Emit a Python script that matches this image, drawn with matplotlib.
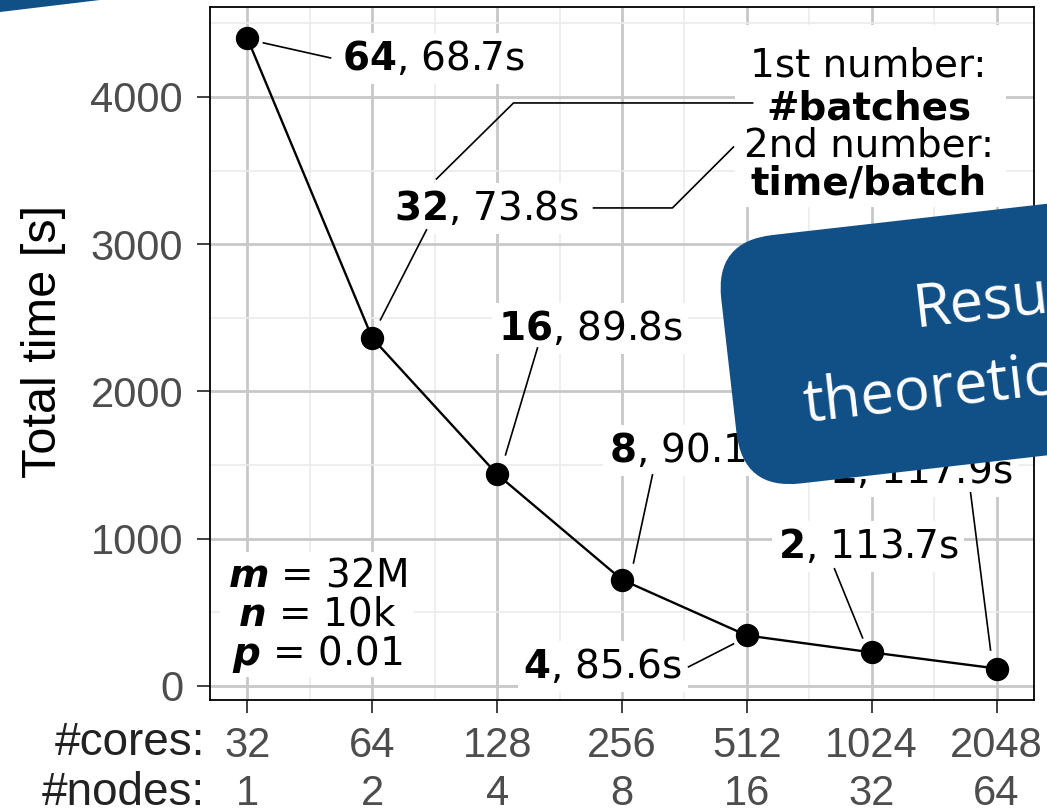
import matplotlib
matplotlib.use("Agg")
import numpy as np
import matplotlib.pyplot as plt
from matplotlib.patches import FancyBboxPatch, Polygon, Rectangle
from matplotlib.transforms import Affine2D, blended_transform_factory
from matplotlib.ticker import FixedLocator, NullFormatter

# ---- data -------------------------------------------------------------
cores = [32, 64, 128, 256, 512, 1024, 2048]
nodes = [1, 2, 4, 8, 16, 32, 64]
batches = [64, 32, 16, 8, 4, 2, 1]
time_per_batch = [68.7, 73.8, 89.8, 90.1, 85.6, 113.7, 117.9]
total_time = [b * t for b, t in zip(batches, time_per_batch)]

y_ticks = [0, 1000, 2000, 3000, 4000]
params = [("m", "32M"), ("n", "10k"), ("p", "0.01")]

# ---- label layout (log2 of x, y) -------------------------------------
label_pos = [(5.761, 4183), (6.170, 3165), (7.003, 2350), (7.892, 1521),
             (7.211, 54), (9.246, 869), (9.662, 1379)]
leaders = [((5.128, 4367), (5.665, 4265)),
           ((6.434, 3097), (6.065, 2486)),
           ((7.323, 2295), (7.067, 1569)),
           ((8.244, 1433), (8.092, 835)),
           ((8.533, 129), (8.893, 285)),
           ((9.702, 795), (9.927, 326)),
           ((10.792, 1311), (10.952, 244))]
key_lines = [("1st number:", "normal", 4136),
             ("#batches", "bold", 3844),
             ("2nd number:", "normal", 3592),
             ("time/batch", "bold", 3334)]
key_x = 9.975
key_pointers = [[(9.046, 3959), (7.131, 3959), (6.514, 3443)],
                [(8.893, 3660), (8.404, 3246), (7.772, 3246)]]
param_x = 5.561
param_y = [672, 407, 143]

TICK_FONT = "Liberation Sans"
LABEL_FONT = "DejaVu Sans"
GREY = "#4d4d4d"
BLUE = "#115087"

fig = plt.figure(figsize=(10.47, 8.08), dpi=100)
fig.patch.set_facecolor("white")
ax = fig.add_axes([210 / 1047, 108 / 808, 824 / 1047, 693 / 808])
ax.set_axisbelow(True)

ax.set_xscale("log", base=2)
ax.set_xlim(2 ** 4.7, 2 ** 11.3)
span = max(total_time) - min(total_time)
ax.set_ylim(min(total_time) - 0.05 * span, max(total_time) + 0.05 * span)

ax.xaxis.set_major_locator(FixedLocator(cores))
ax.set_xticklabels([str(c) for c in cores])
ax.xaxis.set_minor_locator(FixedLocator([2 ** (k + 0.5) for k in range(5, 11)]))
ax.xaxis.set_minor_formatter(NullFormatter())
ax.yaxis.set_major_locator(FixedLocator(y_ticks))
ax.set_yticklabels([str(v) for v in y_ticks])
ax.yaxis.set_minor_locator(FixedLocator([500, 1500, 2500, 3500, 4500]))

ax.grid(which="major", color="#c8c8c8", lw=2.0)
ax.grid(which="minor", color="#ebebeb", lw=1.2)
ax.tick_params(which="major", length=9.4, width=1.3, color="#333333",
               labelsize=30, labelcolor=GREY)
ax.tick_params(axis="x", which="major", pad=9.4)
ax.tick_params(axis="y", which="major", pad=10)
ax.tick_params(which="minor", length=0)
for lbl in ax.get_xticklabels() + ax.get_yticklabels():
    lbl.set_fontfamily(TICK_FONT)
for s in ax.spines.values():
    s.set_color("black")
    s.set_linewidth(1.3)

# second row of x labels: node counts
bt = blended_transform_factory(ax.transData, fig.dpi_scale_trans)
for c, n in zip(cores, nodes):
    ax.text(c, (808 - 805) / 100, str(n), transform=bt, ha="center",
            va="baseline", fontsize=30, color=GREY, family=TICK_FONT,
            clip_on=False)
fig.text(2.05, (808 - 755) / 100, "#cores:", transform=fig.dpi_scale_trans,
         ha="right", va="baseline", fontsize=33, color="#222222",
         family=TICK_FONT)
fig.text(2.05, (808 - 805) / 100, "#nodes:", transform=fig.dpi_scale_trans,
         ha="right", va="baseline", fontsize=33, color="#222222",
         family=TICK_FONT)
fig.text(0.44, (808 - 341) / 100, "Total time [s]", transform=fig.dpi_scale_trans,
         rotation=90, ha="center", va="center", fontsize=35, color="black",
         family=TICK_FONT)

# main curve
ax.plot(cores, total_time, color="black", lw=1.7, zorder=4)
ax.plot(cores, total_time, "o", color="black", ms=15.8, zorder=5)

# point labels: #batches (bold), time per batch
for (lx, ly), b, t in zip(label_pos, batches, time_per_batch):
    ax.text(2 ** lx, ly, r"$\mathbf{%d}$, %.1fs" % (b, t), ha="left",
            va="baseline", fontsize=28, family=LABEL_FONT, zorder=3,
            bbox=dict(boxstyle="square,pad=0.15", fc="white", ec="none"))
for (x0, y0), (x1, y1) in leaders:
    ax.plot([2 ** x0, 2 ** x1], [y0, y1], color="black", lw=1.2, zorder=3.5)

# key explaining the two numbers
ax.add_patch(Rectangle((2 ** 8.909, 3253), 2 ** 11.072 - 2 ** 8.909, 4489 - 3253,
                       fc="white", ec="none", zorder=2.5))
for txt, wt, yy in key_lines:
    ax.text(2 ** key_x, yy, txt, ha="center", va="baseline", fontsize=28,
            fontweight=wt, family=LABEL_FONT, zorder=3)
for pts in key_pointers:
    ax.plot([2 ** p[0] for p in pts], [p[1] for p in pts], color="black",
            lw=1.2, zorder=3.5)

# problem parameters
ax.add_patch(Rectangle((2 ** 4.784, 61), 2 ** 6.330 - 2 ** 4.784, 910 - 61,
                       fc="white", ec="none", zorder=2.5))
for (var, val), yy in zip(params, param_y):
    ax.text(2 ** param_x, yy, r"$\mathbfit{%s}$ = %s" % (var, val), ha="center",
            va="baseline", fontsize=28, family=LABEL_FONT, zorder=3)

# slide decorations
fig.add_artist(Polygon([(0, 8.08), (1.0, 8.08), (0, 7.96)], closed=True,
                       transform=fig.dpi_scale_trans, fc=BLUE, ec="none",
                       zorder=10))
angle = 6.5
bx, by = 7.43, 3.18
rot = Affine2D().rotate_deg_around(bx, by, angle) + fig.dpi_scale_trans
fig.add_artist(FancyBboxPatch((bx, by), 6.0, 2.5,
                              boxstyle="round,pad=0,rounding_size=0.58",
                              transform=rot, fc=BLUE, ec="none", zorder=10))
fig.text(9.15, (808 - 327) / 100, "Results", transform=fig.dpi_scale_trans,
         rotation=angle, rotation_mode="anchor", ha="left", va="baseline",
         fontsize=43, color="white", family="Open Sans", zorder=11)
fig.text(8.05, (808 - 422) / 100, "theoretical", transform=fig.dpi_scale_trans,
         rotation=angle, rotation_mode="anchor", ha="left", va="baseline",
         fontsize=43, color="white", family="Open Sans", zorder=11)

fig.savefig("out.png", dpi=100)
